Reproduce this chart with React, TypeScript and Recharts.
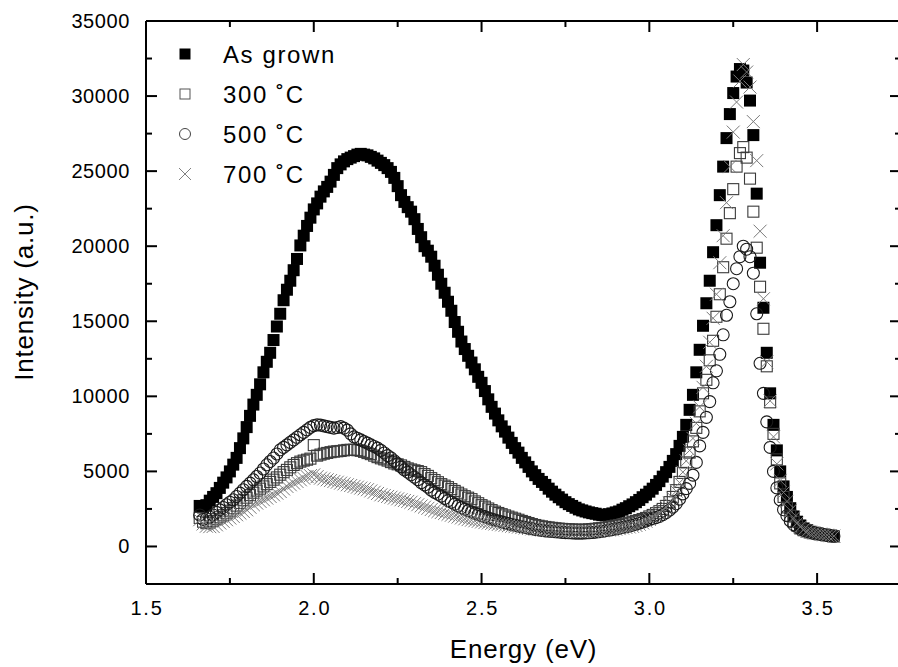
import React from 'react';
import { ScatterChart, Scatter, XAxis, YAxis, Legend, ReferenceLine } from 'recharts';

const energy = [
  1.66, 1.67, 1.68, 1.69, 1.7, 1.71, 1.72, 1.73, 1.74, 1.75,
  1.76, 1.77, 1.78, 1.79, 1.8, 1.81, 1.82, 1.83, 1.84, 1.85,
  1.86, 1.87, 1.88, 1.89, 1.9, 1.91, 1.92, 1.93, 1.94, 1.95,
  1.96, 1.97, 1.98, 1.99, 2.0, 2.01, 2.02, 2.03, 2.04, 2.05,
  2.06, 2.07, 2.08, 2.09, 2.1, 2.11, 2.12, 2.13, 2.14, 2.15,
  2.16, 2.17, 2.18, 2.19, 2.2, 2.21, 2.22, 2.23, 2.24, 2.25,
  2.26, 2.27, 2.28, 2.29, 2.3, 2.31, 2.32, 2.33, 2.34, 2.35,
  2.36, 2.37, 2.38, 2.39, 2.4, 2.41, 2.42, 2.43, 2.44, 2.45,
  2.46, 2.47, 2.48, 2.49, 2.5, 2.51, 2.52, 2.53, 2.54, 2.55,
  2.56, 2.57, 2.58, 2.59, 2.6, 2.61, 2.62, 2.63, 2.64, 2.65,
  2.66, 2.67, 2.68, 2.69, 2.7, 2.71, 2.72, 2.73, 2.74, 2.75,
  2.76, 2.77, 2.78, 2.79, 2.8, 2.81, 2.82, 2.83, 2.84, 2.85,
  2.86, 2.87, 2.88, 2.89, 2.9, 2.91, 2.92, 2.93, 2.94, 2.95,
  2.96, 2.97, 2.98, 2.99, 3.0, 3.01, 3.02, 3.03, 3.04, 3.05,
  3.06, 3.07, 3.08, 3.09, 3.1, 3.11, 3.12, 3.13, 3.14, 3.15,
  3.16, 3.17, 3.18, 3.19, 3.2, 3.21, 3.22, 3.23, 3.24, 3.25,
  3.26, 3.27, 3.28, 3.29, 3.3, 3.31, 3.32, 3.33, 3.34, 3.35,
  3.36, 3.37, 3.38, 3.39, 3.4, 3.41, 3.42, 3.43, 3.44, 3.45,
  3.46, 3.47, 3.48, 3.49, 3.5, 3.51, 3.52, 3.53, 3.54, 3.55,
];

const asGrown = [
  2700, 2600, 2750, 3050, 3300, 3550, 3900, 4250, 4600, 5000,
  5450, 5900, 6550, 7200, 7950, 8700, 9450, 10100, 10800, 11600,
  12300, 12900, 13750, 14650, 15500, 16400, 17100, 17700, 18400, 19150,
  20050, 20700, 21350, 21900, 22450, 22850, 23300, 23650, 23950, 24300,
  24750, 25200, 25450, 25650, 25800, 25900, 26000, 26100, 26150, 26100,
  26050, 25950, 25850, 25700, 25550, 25400, 25200, 24950, 24550, 24000,
  23400, 22950, 22600, 22300, 21800, 21150, 20600, 20000, 19700, 19300,
  18700, 18100, 17500, 16900, 16300, 15700, 14950, 14300, 13650, 13150,
  12700, 12250, 11800, 11300, 10900, 10350, 9800, 9300, 8850, 8400,
  8000, 7650, 7250, 6900, 6550, 6250, 5900, 5600, 5300, 5000,
  4750, 4500, 4300, 4100, 3850, 3650, 3450, 3280, 3120, 2950,
  2820, 2700, 2580, 2470, 2400, 2330, 2270, 2220, 2180, 2120,
  2100, 2100, 2150, 2200, 2270, 2330, 2450, 2550, 2680, 2800,
  2950, 3100, 3280, 3450, 3650, 3850, 4100, 4350, 4650, 4950,
  5300, 5700, 6150, 6700, 7300, 8100, 9100, 10100, 11600, 13100,
  14700, 16200, 17700, 19600, 21400, 23400, 25300, 27200, 28800, 30200,
  31300, 31800, 31700, 30900, 29700, 27400, 23500, 18900, 15900, 12900,
  10200, 8100, 6400, 5000, 4000, 3300, 2550, 2000, 1650, 1400,
  1200, 1080, 980, 920, 870, 830, 790, 760, 720, 680,
];

const annealed300 = [
  1900, 1650, 1550, 1600, 1700, 1820, 1950, 2080, 2220, 2380,
  2550, 2720, 2900, 3080, 3250, 3420, 3580, 3720, 3850, 4000,
  4150, 4300, 4450, 4600, 4780, 4950, 5100, 5270, 5430, 5550,
  5650, 5720, 5780, 5850, 6750, 6050, 6120, 6180, 6230, 6280,
  6320, 6340, 6360, 6400, 6430, 6440, 6440, 6410, 6370, 6300,
  6220, 6150, 6050, 5950, 5870, 5800, 5720, 5620, 5530, 5470,
  5400, 5300, 5200, 5130, 5070, 5020, 4950, 4820, 4700, 4550,
  4420, 4280, 4150, 4050, 3950, 3820, 3700, 3580, 3460, 3350,
  3250, 3150, 3000, 2880, 2750, 2650, 2530, 2420, 2320, 2230,
  2150, 2070, 1990, 1920, 1850, 1780, 1700, 1630, 1560, 1490,
  1430, 1380, 1340, 1300, 1270, 1240, 1210, 1190, 1170, 1150,
  1140, 1130, 1120, 1110, 1110, 1120, 1140, 1160, 1180, 1210,
  1240, 1270, 1310, 1350, 1390, 1430, 1480, 1530, 1580, 1640,
  1700, 1760, 1830, 1900, 2000, 2100, 2220, 2350, 2500, 2700,
  2950, 3300, 3750, 4300, 4900, 5600, 6250, 7000, 7900, 9000,
  10200, 11100, 12400, 13700, 15300, 16800, 18600, 20500, 22200, 23800,
  25300, 26200, 26600, 25900, 24500, 22300, 19900, 17300, 14500, 12000,
  9600, 7500, 5800, 4200, 3300, 2600, 2050, 1650, 1400, 1200,
  1080, 1000, 930, 880, 840, 800, 770, 740, 710, 680,
];

const annealed500 = [
  2100, 1800, 1850, 1950, 2100, 2270, 2440, 2600, 2780, 2950,
  3110, 3330, 3550, 3780, 4000, 4220, 4440, 4660, 4890, 5160,
  5440, 5660, 5890, 6160, 6440, 6600, 6770, 6930, 7100, 7270,
  7440, 7600, 7770, 7930, 8050, 8100, 8080, 8030, 7980, 7930,
  7880, 7920, 7980, 7880, 7750, 7500, 7300, 7200, 7100, 6980,
  6880, 6770, 6660, 6550, 6400, 6230, 6050, 5900, 5700, 5500,
  5300, 5100, 4950, 4780, 4620, 4450, 4250, 4100, 3950, 3750,
  3600, 3480, 3350, 3200, 3050, 2950, 2820, 2700, 2580, 2480,
  2380, 2300, 2220, 2140, 2060, 1980, 1900, 1830, 1760, 1700,
  1640, 1580, 1520, 1460, 1410, 1360, 1310, 1260, 1220, 1180,
  1140, 1100, 1070, 1040, 1020, 1000, 980, 960, 940, 920,
  910, 900, 890, 890, 890, 900, 910, 930, 950, 980,
  1010, 1050, 1090, 1130, 1170, 1210, 1260, 1310, 1360, 1420,
  1480, 1550, 1620, 1700, 1780, 1850, 1920, 2000, 2120, 2250,
  2420, 2620, 2850, 3150, 3500, 3850, 4200, 4750, 5600, 6700,
  7600, 8600, 9650, 10900, 11700, 12800, 14100, 15400, 16300, 17500,
  18500, 19300, 20000, 19800, 19300, 18200, 15500, 12200, 10200, 8300,
  6600, 5000, 3900, 3100, 2450, 2050, 1700, 1450, 1300, 1180,
  1080, 1000, 950, 900, 860, 820, 780, 740, 710, 680,
];

const annealed700 = [
  1780, 1500, 1350, 1320, 1330, 1440, 1560, 1670, 1780, 1890,
  2000, 2110, 2220, 2330, 2440, 2610, 2780, 2890, 3000, 3110,
  3220, 3330, 3440, 3550, 3660, 3830, 4000, 4110, 4220, 4330,
  4440, 4550, 4660, 4720, 4770, 4650, 4550, 4500, 4440, 4390,
  4330, 4280, 4220, 4170, 4110, 4060, 4000, 3950, 3890, 3840,
  3780, 3700, 3610, 3530, 3440, 3390, 3330, 3280, 3220, 3170,
  3110, 3060, 3000, 2950, 2850, 2780, 2700, 2620, 2540, 2460,
  2380, 2320, 2260, 2200, 2140, 2080, 2020, 1960, 1900, 1840,
  1790, 1750, 1710, 1670, 1630, 1590, 1560, 1530, 1500, 1470,
  1440, 1410, 1380, 1350, 1320, 1290, 1260, 1230, 1200, 1170,
  1150, 1120, 1100, 1080, 1060, 1050, 1040, 1030, 1020, 1010,
  1000, 1000, 1000, 1000, 1000, 1000, 1000, 1000, 1010, 1030,
  1050, 1080, 1100, 1110, 1150, 1190, 1230, 1270, 1300, 1340,
  1400, 1480, 1570, 1680, 1800, 1920, 2060, 2220, 2400, 2620,
  2880, 3220, 3680, 4250, 4950, 5700, 6400, 7200, 8200, 9300,
  10600, 12000, 13600, 15200, 16800, 18900, 20700, 22900, 25300, 27600,
  29600, 31000, 32100, 31600, 30600, 28300, 25700, 21000, 16500, 12300,
  9700, 7300, 5500, 4400, 3600, 3000, 2400, 1900, 1550, 1300,
  1130, 1020, 950, 900, 860, 820, 780, 750, 720, 690,
];

const seriesNames = ['As grown', '300 \u02DAC', '500 \u02DAC', '700 \u02DAC'];
const xTicks = [1.5, 1.75, 2.0, 2.25, 2.5, 2.75, 3.0, 3.25, 3.5, 3.75];
const yTicks = [0, 2500, 5000, 7500, 10000, 12500, 15000, 17500, 20000, 22500, 25000, 27500, 30000, 32500, 35000];
const xDomain = [1.5, 3.75];
const yDomain = [-2500, 35000];
const xTitle = 'Energy (eV)';
const yTitle = 'Intensity (a.u.)';

const FONT = '"Liberation Sans", Arial, Helvetica, sans-serif';
const MAJOR = 11;
const MINOR = 6;
// plot box edges (layout)
const BOX = { left: 146, right: 901, top: 21, bottom: 584 };

const toPoints = (ys: number[]) => energy.map((e, i) => ({ x: e, y: ys[i] }));

const isMajorX = (v: number) => Math.abs(v * 2 - Math.round(v * 2)) < 1e-6;
const isMajorY = (v: number) => v % 5000 === 0;

// bottom axis tick (also mirrors the tick onto the top frame edge)
const BottomTick = (props: any) => {
  const { x, payload } = props;
  const v = payload.value as number;
  const len = isMajorX(v) ? MAJOR : MINOR;
  return (
    <g>
      <line x1={x} y1={BOX.bottom} x2={x} y2={BOX.bottom - len} stroke="#000" strokeWidth={2} />
      <line x1={x} y1={BOX.top} x2={x} y2={BOX.top + len} stroke="#000" strokeWidth={2} />
      {isMajorX(v) && (
        <text x={x + 1} y={BOX.bottom + 31} textAnchor="middle" fontSize={20} letterSpacing={1.8} fontFamily={FONT} fill="#000">
          {v.toFixed(1)}
        </text>
      )}
    </g>
  );
};

// left axis tick (also mirrors the tick onto the right frame edge)
const LeftTick = (props: any) => {
  const { y, payload } = props;
  const v = payload.value as number;
  const len = isMajorY(v) ? MAJOR : MINOR;
  return (
    <g>
      <line x1={BOX.left} y1={y} x2={BOX.left + len} y2={y} stroke="#000" strokeWidth={2} />
      <line x1={BOX.right} y1={y} x2={BOX.right - len} y2={y} stroke="#000" strokeWidth={2} />
      {isMajorY(v) && (
        <text x={BOX.left - 16} y={y + 7} textAnchor="end" fontSize={20} letterSpacing={0.6} fontFamily={FONT} fill="#000">
          {String(v)}
        </text>
      )}
    </g>
  );
};

const FilledSquare = (p: any) => <rect x={p.cx - 6} y={p.cy - 6} width={12} height={12} fill="#000" />;
const OpenSquare = (p: any) => (
  <rect x={p.cx - 5.5} y={p.cy - 5.5} width={11} height={11} fill="none" stroke="#3a3a3a" strokeWidth={1.1} />
);
const OpenCircle = (p: any) => <circle cx={p.cx} cy={p.cy} r={6} fill="none" stroke="#1a1a1a" strokeWidth={1.1} />;
const Cross = (p: any) => (
  <path
    d={`M${p.cx - 6.5},${p.cy - 6.5}L${p.cx + 6.5},${p.cy + 6.5}M${p.cx - 6.5},${p.cy + 6.5}L${p.cx + 6.5},${p.cy - 6.5}`}
    stroke="#7a7a7a"
    strokeWidth={1}
    fill="none"
  />
);

const LegendContent = () => {
  const rows = [24, 64, 104, 144];
  const sx = 25;
  return (
    <svg width={300} height={180} style={{ display: 'block' }}>
      <rect x={sx - 5.5} y={rows[0] - 5.5} width={11} height={11} fill="#000" />
      <rect x={sx - 5} y={rows[1] - 5} width={10} height={10} fill="none" stroke="#555" strokeWidth={1} />
      <circle cx={sx} cy={rows[2]} r={5.5} fill="none" stroke="#444" strokeWidth={1} />
      <path
        d={`M${sx - 6},${rows[3] - 6}L${sx + 6},${rows[3] + 6}M${sx - 6},${rows[3] + 6}L${sx + 6},${rows[3] - 6}`}
        stroke="#808080"
        strokeWidth={1}
        fill="none"
      />
      {seriesNames.map((n, i) => (
        <text key={n} x={63} y={rows[i] + 8.5} fontSize={24} letterSpacing={1.6} fontFamily={FONT} fill="#000">
          {n}
        </text>
      ))}
    </svg>
  );
};

const XTitle = () => {
  const cx = (BOX.left + BOX.right) / 2;
  return (
    <text x={cx} y={BOX.bottom + 74} textAnchor="middle" fontSize={26} letterSpacing={0.8} fontFamily={FONT} fill="#000">
      {xTitle}
    </text>
  );
};

const YTitle = () => {
  const cx = 33;
  const cy = 292;
  return (
    <text
      x={cx}
      y={cy}
      transform={`rotate(-90 ${cx} ${cy})`}
      textAnchor="middle"
      fontSize={26}
      letterSpacing={0.8}
      fontFamily={FONT}
      fill="#000"
    >
      {yTitle}
    </text>
  );
};

export default function App() {
  const axisLine = { stroke: '#000', strokeWidth: 2 };
  return (
    <div style={{ position: 'absolute', left: 0, top: 0, width: 898, height: 667, overflow: 'hidden', background: '#fff' }}>
      <ScatterChart width={905} height={667} margin={{ top: BOX.top, right: 905 - BOX.right, bottom: 23, left: 0 }}>
        <XAxis
          type="number"
          dataKey="x"
          domain={xDomain}
          allowDataOverflow
          ticks={xTicks}
          interval={0}
          tickSize={0}
          tickMargin={0}
          tickLine={false}
          axisLine={axisLine}
          height={60}
          tick={<BottomTick />}
          label={{ content: <XTitle /> }}
        />
        <YAxis
          type="number"
          dataKey="y"
          domain={yDomain}
          allowDataOverflow
          ticks={yTicks}
          interval={0}
          tickSize={0}
          tickMargin={0}
          tickLine={false}
          axisLine={axisLine}
          width={146}
          tick={<LeftTick />}
          label={{ content: <YTitle /> }}
        />
        <ReferenceLine y={yDomain[1]} stroke="#000" strokeWidth={2} />
        <ReferenceLine x={xDomain[1]} stroke="#000" strokeWidth={2} />
        <Scatter name={seriesNames[0]} data={toPoints(asGrown)} shape={FilledSquare} isAnimationActive={false} />
        <Scatter name={seriesNames[1]} data={toPoints(annealed300)} shape={OpenSquare} isAnimationActive={false} />
        <Scatter name={seriesNames[2]} data={toPoints(annealed500)} shape={OpenCircle} isAnimationActive={false} />
        <Scatter name={seriesNames[3]} data={toPoints(annealed700)} shape={Cross} isAnimationActive={false} />
        <Legend
          layout="vertical"
          align="center"
          verticalAlign="middle"
          content={<LegendContent />}
          wrapperStyle={{ position: 'absolute', left: 160, top: 30, width: 300, height: 180 }}
        />
      </ScatterChart>
    </div>
  );
}
